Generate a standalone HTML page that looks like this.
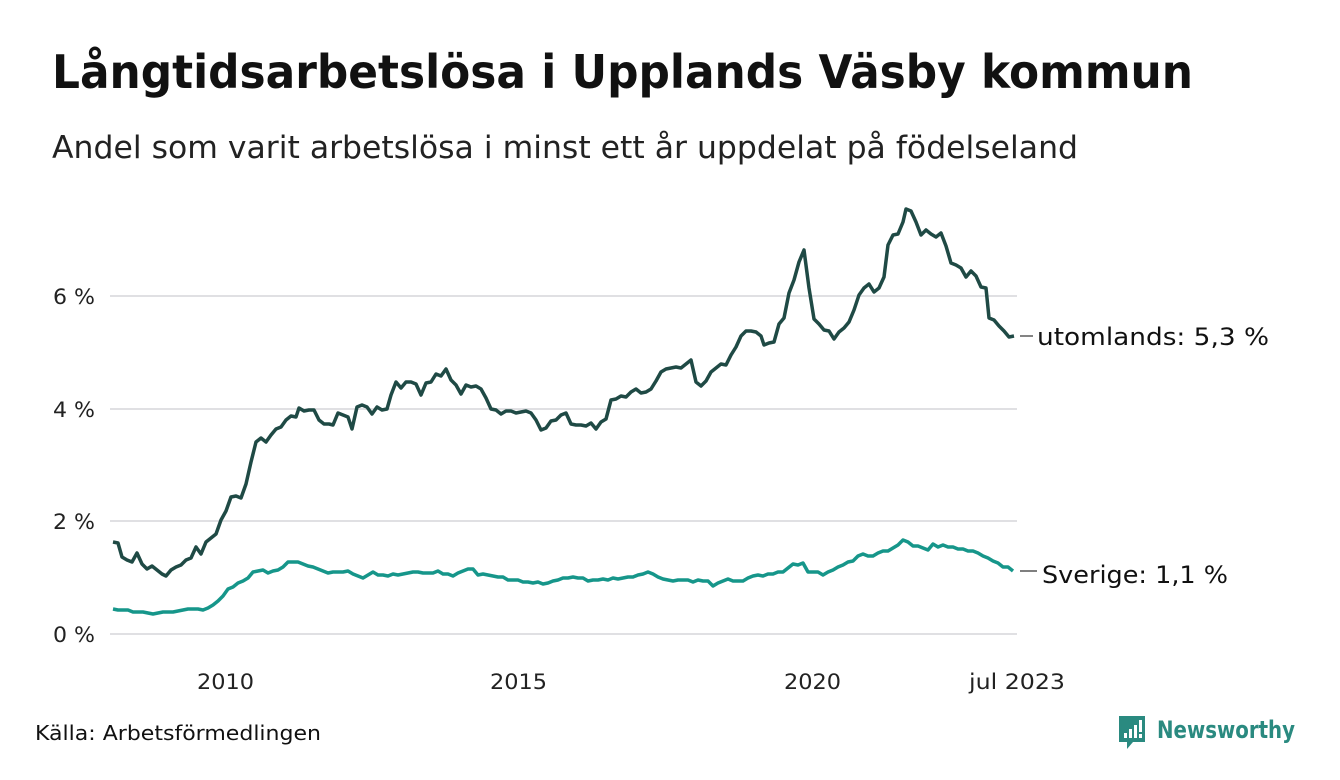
<!DOCTYPE html>
<html><head><meta charset="utf-8"><style>
body{margin:0;width:1340px;height:780px;background:#fff;overflow:hidden;position:relative;color:#111}
svg{position:absolute;left:0;top:0}
</style></head><body>
<svg width="1340" height="780" font-family="DejaVu Sans, Liberation Sans, sans-serif">
<text x="52" y="88" font-size="46" font-weight="bold" fill="#111" textLength="1141" lengthAdjust="spacingAndGlyphs">Långtidsarbetslösa i Upplands Väsby kommun</text>
<text x="52" y="158" font-size="31" fill="#222" textLength="1026" lengthAdjust="spacingAndGlyphs">Andel som varit arbetslösa i minst ett år uppdelat på födelseland</text>
<g stroke="#e0e0e3" stroke-width="2">
<line x1="110" x2="1017" y1="296" y2="296"/><line x1="110" x2="1017" y1="409" y2="409"/><line x1="110" x2="1017" y1="521" y2="521"/><line x1="110" x2="1017" y1="634" y2="634"/></g>
<g font-size="21" fill="#222">
<text x="53" y="304" textLength="42" lengthAdjust="spacingAndGlyphs">6 %</text><text x="53" y="417" textLength="42" lengthAdjust="spacingAndGlyphs">4 %</text><text x="53" y="529" textLength="42" lengthAdjust="spacingAndGlyphs">2 %</text><text x="53" y="642" textLength="42" lengthAdjust="spacingAndGlyphs">0 %</text></g>
<g font-size="21" fill="#222">
<text x="197" y="689" textLength="57" lengthAdjust="spacingAndGlyphs">2010</text><text x="490" y="689" textLength="57" lengthAdjust="spacingAndGlyphs">2015</text><text x="784" y="689" textLength="57" lengthAdjust="spacingAndGlyphs">2020</text><text x="969" y="689" textLength="96" lengthAdjust="spacingAndGlyphs">jul 2023</text></g>
<polyline fill="none" stroke="#1f4a45" stroke-width="3.5" stroke-linejoin="round" points="113,542 118,543 122,557 127,560 132,562 137,553 142,564 147,569 152,566 157,570 162,574 166,576 171,570 176,567 181,565 186,560 191,558 196,547 201,554 206,542 211,538 216,534 221,520 226,511 231,497 236,496 241,498 246,484 251,462 256,442 261,438 266,442 271,435 276,429 281,427 286,420 291,416 296,417 299,408 304,411 309,410 314,410 319,420 324,424 329,424 333,425 338,413 343,415 348,417 352,429 357,407 362,405 367,407 372,414 377,407 382,410 387,409 391,395 396,382 401,388 406,382 411,382 416,384 421,395 426,383 431,382 436,374 441,376 446,369 451,380 456,385 461,394 466,385 471,387 476,386 481,389 486,398 491,409 496,410 501,414 506,411 511,411 516,413 521,412 526,411 531,413 536,420 541,430 546,428 551,421 556,420 561,415 566,413 571,424 576,425 581,425 586,426 591,423 596,429 601,422 606,419 611,400 616,399 621,396 626,397 631,392 636,389 641,393 646,392 651,389 656,381 661,372 666,369 671,368 676,367 681,368 686,364 691,360 696,382 701,386 706,381 711,372 716,368 721,364 726,365 731,355 736,347 741,336 746,331 751,331 756,332 761,336 764,345 769,343 774,342 779,324 784,318 789,293 794,280 799,262 804,250 809,288 814,319 819,324 824,330 829,331 834,339 839,332 844,328 849,322 854,310 859,295 864,288 869,284 874,292 879,288 884,277 888,245 893,235 898,234 903,222 906,209 911,211 916,222 921,235 926,230 931,234 936,237 941,233 946,246 951,263 956,265 961,268 966,277 971,271 976,276 981,287 986,288 989,318 994,320 999,326 1004,331 1009,337 1014,336"/>
<polyline fill="none" stroke="#16968a" stroke-width="3.5" stroke-linejoin="round" points="113,609 118,610 123,610 128,610 133,612 138,612 143,612 148,613 153,614 158,613 163,612 168,612 173,612 178,611 183,610 188,609 193,609 198,609 203,610 208,608 213,605 218,601 223,596 228,589 233,587 238,583 243,581 248,578 253,572 258,571 263,570 268,573 273,571 278,570 283,567 288,562 293,562 298,562 303,564 308,566 313,567 318,569 323,571 328,573 333,572 338,572 343,572 348,571 353,574 358,576 363,578 368,575 373,572 378,575 383,575 388,576 393,574 398,575 403,574 408,573 413,572 418,572 423,573 428,573 433,573 438,571 443,574 448,574 453,576 458,573 463,571 468,569 473,569 478,575 483,574 488,575 493,576 498,577 503,577 508,580 513,580 518,580 523,582 528,582 533,583 538,582 543,584 548,583 553,581 558,580 563,578 568,578 573,577 578,578 583,578 588,581 593,580 598,580 603,579 608,580 613,578 618,579 623,578 628,577 633,577 638,575 643,574 648,572 653,574 658,577 663,579 668,580 673,581 678,580 683,580 688,580 693,582 698,580 703,581 708,581 713,586 718,583 723,581 728,579 733,581 738,581 743,581 748,578 753,576 758,575 763,576 768,574 773,574 778,572 783,572 788,568 793,564 798,565 803,563 808,572 813,572 818,572 823,575 828,572 833,570 838,567 843,565 848,562 853,561 858,556 863,554 868,556 873,556 878,553 883,551 888,551 893,548 898,545 903,540 908,542 913,546 918,546 923,548 928,550 933,544 938,547 943,545 948,547 953,547 958,549 963,549 968,551 973,551 978,553 983,556 988,558 993,561 998,563 1003,567 1008,567 1013,571"/>
<g stroke="#333" stroke-width="1.2"><line x1="1020" x2="1033" y1="336" y2="336"/><line x1="1020" x2="1037" y1="571" y2="571"/></g>
<g font-size="24" fill="#111"><text x="1037" y="345" textLength="232" lengthAdjust="spacingAndGlyphs">utomlands: 5,3 %</text><text x="1042" y="583" textLength="186" lengthAdjust="spacingAndGlyphs">Sverige: 1,1 %</text></g>
<text x="35" y="740" font-size="20" fill="#111" textLength="286" lengthAdjust="spacingAndGlyphs">Källa: Arbetsförmedlingen</text>
<g transform="translate(1119,716)">
<path d="M0,0 H26 V26 H14 L8,33 L8,26 H0 Z" fill="#2a8a80"/>
<rect x="5" y="17" width="3" height="5" fill="#fff"/><rect x="10" y="13" width="3" height="9" fill="#fff"/><rect x="15" y="9" width="3" height="13" fill="#fff"/><rect x="20" y="4" width="3" height="12" fill="#fff"/><rect x="20" y="18" width="3" height="4" fill="#fff"/>
</g>
<text x="1157" y="738" font-size="24" font-weight="bold" fill="#2a8a80" textLength="138" lengthAdjust="spacingAndGlyphs">Newsworthy</text>
</svg>
</body></html>
